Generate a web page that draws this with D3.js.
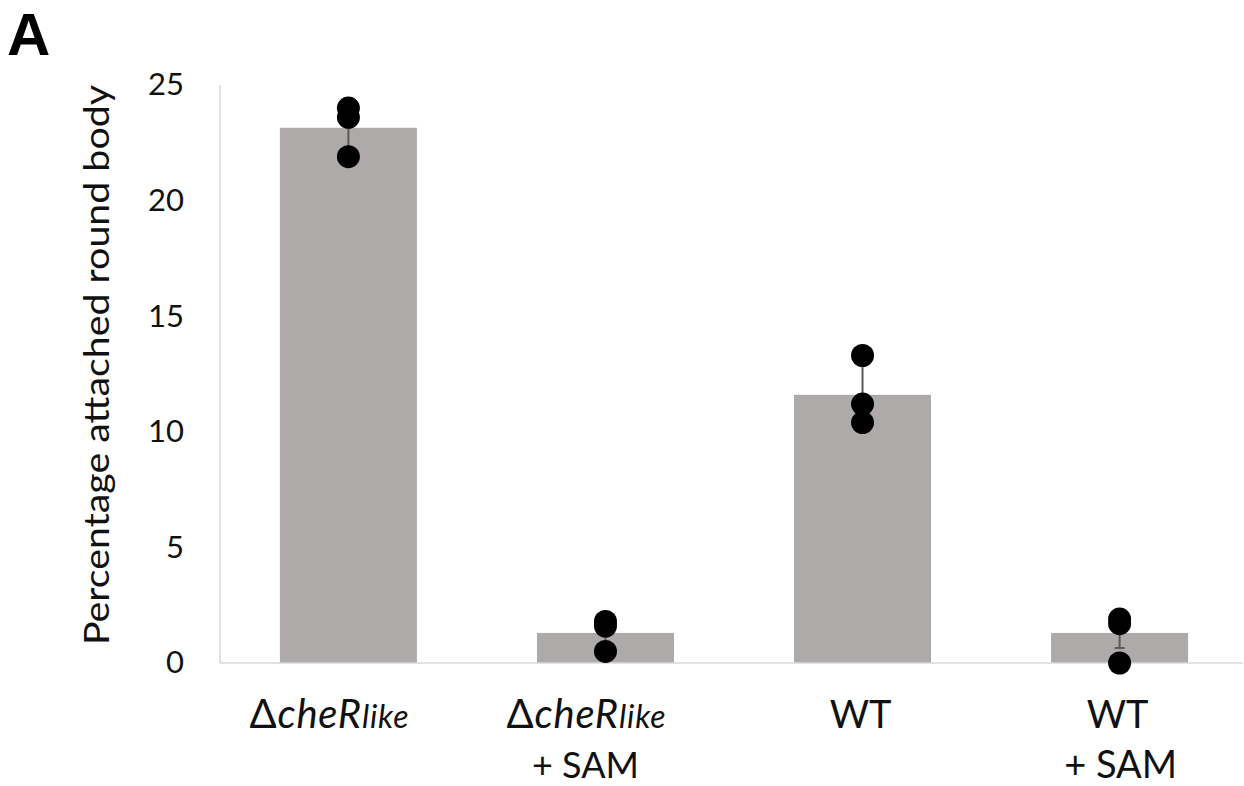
<!DOCTYPE html>
<html><head><meta charset="utf-8">
<script src="https://cdn.jsdelivr.net/npm/d3@7"></script>
<style>body{margin:0;background:#fff}svg{display:block}</style>
</head><body>
<script>
const categories = ["dCheR", "dCheR_SAM", "WT", "WT_SAM"];
const means = [23.15, 1.3, 11.6, 1.3];
const errors = [1.1, 0.7, 1.5, 0.65];
const replicates = [
  [24.0, 23.6, 21.9],
  [1.8, 1.6, 0.5],
  [13.3, 11.2, 10.4],
  [1.9, 1.7, 0.0]
];
const yTicks = [0, 5, 10, 15, 20, 25];
const yTitle = "Percentage attached round body";
const panelLabel = "A";

const W = 1244, H = 786;
const svg = d3.select("body").append("svg").attr("width", W).attr("height", H);
const FONT = "Lato, 'Open Sans', sans-serif";

const x = d3.scaleBand().domain(categories).range([220, 1248]).paddingInner(0.467).paddingOuter(0.233);
const y = d3.scaleLinear().domain([0, 25]).range([663, 85]);

svg.append("line").attr("x1", 220).attr("x2", 220).attr("y1", y(25)).attr("y2", y(0))
  .attr("stroke", "#d9d9d9").attr("stroke-width", 1.5);

const yAxis = d3.axisLeft(y).tickValues(yTicks).tickSize(0).tickPadding(36);
const gy = svg.append("g").attr("transform", "translate(220,0)").call(yAxis);
gy.select(".domain").remove();
gy.selectAll("text").attr("font-family", FONT).attr("font-size", 31).attr("fill", "#111");

svg.selectAll("rect.bar").data(categories).join("rect")
  .attr("class", "bar")
  .attr("x", d => x(d)).attr("width", x.bandwidth())
  .attr("y", (d, i) => y(means[i])).attr("height", (d, i) => y(0) - y(means[i]))
  .attr("fill", "#aeaaaa");

svg.append("line").attr("x1", 220).attr("x2", 1243).attr("y1", y(0)).attr("y2", y(0))
  .attr("stroke", "#d9d9d9").attr("stroke-width", 1.5);

const eg = svg.append("g").attr("stroke", "#595959").attr("stroke-width", 2);
categories.forEach((c, i) => {
  const cx = x(c) + x.bandwidth() / 2;
  const lo = Math.max(0, means[i] - errors[i]), hi = means[i] + errors[i];
  eg.append("line").attr("x1", cx).attr("x2", cx).attr("y1", y(lo)).attr("y2", y(hi));
  eg.append("line").attr("x1", cx - 5).attr("x2", cx + 5).attr("y1", y(lo)).attr("y2", y(lo));
  eg.append("line").attr("x1", cx - 5).attr("x2", cx + 5).attr("y1", y(hi)).attr("y2", y(hi));
});

categories.forEach((c, i) => {
  const cx = x(c) + x.bandwidth() / 2;
  svg.append("g").selectAll("circle").data(replicates[i]).join("circle")
    .attr("cx", cx).attr("cy", d => y(d)).attr("r", 11.5).attr("fill", "#000");
});

function center(c) { return x(c) + x.bandwidth() / 2; }
function deltaLabel(c, line2) {
  const t = svg.append("text").attr("x", center(c) - 19).attr("y", 728)
    .attr("text-anchor", "middle").attr("font-family", FONT).attr("fill", "#111")
    .attr("letter-spacing", 0.8);
  t.append("tspan").attr("font-size", 40).text("Δ");
  t.append("tspan").attr("font-size", 40).attr("font-style", "italic").text("cheR");
  t.append("tspan").attr("font-size", 32).attr("font-style", "italic").text("like");
  if (line2) {
    svg.append("text").attr("x", center(c) - 20).attr("y", 778).attr("text-anchor", "middle")
      .attr("font-family", FONT).attr("font-size", 36).attr("fill", "#111").text(line2);
  }
}
function plainLabel(c, l1, l2) {
  svg.append("text").attr("x", center(c) - 2).attr("y", 728).attr("text-anchor", "middle")
    .attr("font-family", FONT).attr("font-size", 38).attr("fill", "#111").text(l1);
  if (l2) svg.append("text").attr("x", center(c) + 1).attr("y", 778).attr("text-anchor", "middle")
    .attr("font-family", FONT).attr("font-size", 38).attr("fill", "#111").text(l2);
}
deltaLabel(categories[0], null);
deltaLabel(categories[1], "+ SAM");
plainLabel(categories[2], "WT", null);
plainLabel(categories[3], "WT", "+ SAM");

svg.append("text").attr("transform", "translate(109,365) rotate(-90)")
  .attr("text-anchor", "middle").attr("font-family", FONT).attr("font-size", 35)
  .attr("textLength", 560).attr("lengthAdjust", "spacingAndGlyphs")
  .attr("fill", "#111").text(yTitle);

svg.append("text").attr("x", 7).attr("y", 55).attr("font-family", "'Liberation Sans', Arial, sans-serif")
  .attr("font-weight", "bold").attr("font-size", 60).attr("fill", "#000").text(panelLabel);
</script>
</body></html>
